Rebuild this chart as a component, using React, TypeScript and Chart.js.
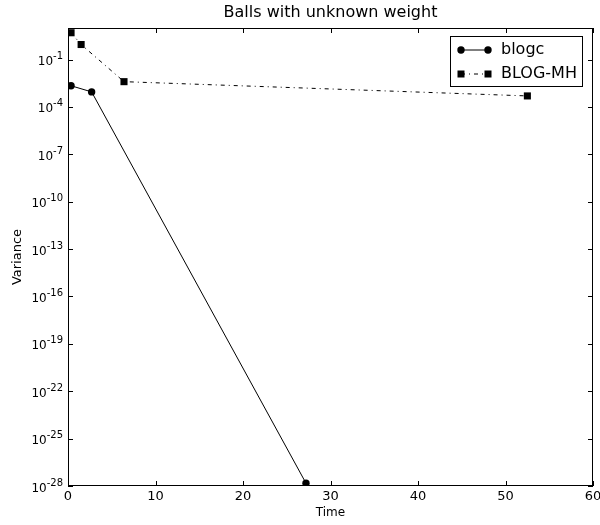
import React, { useEffect, useRef } from "react";
import { Chart, registerables } from "chart.js";

Chart.register(...registerables);

const TITLE = "Balls with unknown weight";
const X_LABEL = "Time";
const Y_LABEL = "Variance";
const SERIES_NAMES = ["blogc", "BLOG-MH"];

const blogcTime = [0.35, 2.7, 27.2];
const blogcVar = [2.2e-3, 9e-4, 1.5e-28];
const mhTime = [0.35, 1.5, 6.4, 52.5];
const mhVar = [5, 0.9, 4e-3, 5e-4];

const xTicks = [0, 10, 20, 30, 40, 50, 60];
const yTickExps = [-28, -25, -22, -19, -16, -13, -10, -7, -4, -1];

const FONT = "'DejaVu Sans', sans-serif";
const MH_DASH = [4, 4, 1, 4];

const decor = {
  id: "decor",
  afterDraw(chart: any) {
    const ctx = chart.ctx;
    const { left, right, top, bottom } = chart.chartArea;
    const xs = chart.scales.x;
    const ys = chart.scales.y;
    ctx.save();
    ctx.strokeStyle = "#000";
    ctx.lineWidth = 1;
    ctx.strokeRect(left + 0.5, top + 0.5, right - left - 1, bottom - top - 1);
    const tl = 5;
    ctx.beginPath();
    xTicks.forEach((v) => {
      const px = Math.round(xs.getPixelForValue(v)) + 0.5;
      ctx.moveTo(px, bottom);
      ctx.lineTo(px, bottom - tl);
      ctx.moveTo(px, top);
      ctx.lineTo(px, top + tl);
    });
    yTickExps.forEach((e) => {
      const py = Math.round(ys.getPixelForValue(Math.pow(10, e))) + 0.5;
      ctx.moveTo(left, py);
      ctx.lineTo(left + tl, py);
      ctx.moveTo(right, py);
      ctx.lineTo(right - tl, py);
    });
    ctx.stroke();

    // y tick labels with superscripts
    ctx.fillStyle = "#000";
    yTickExps.forEach((e) => {
      const py = ys.getPixelForValue(Math.pow(10, e));
      const sup = "-" + String(Math.abs(e));
      ctx.font = `10px ${FONT}`;
      const supW = ctx.measureText(sup).width;
      const rx = left - 5;
      ctx.textAlign = "left";
      ctx.textBaseline = "alphabetic";
      ctx.fillText(sup, rx - supW, py - 0.5);
      ctx.font = `12px ${FONT}`;
      ctx.textAlign = "right";
      ctx.fillText("10", rx - supW, py + 5.5);
    });

    // title
    ctx.font = `16px ${FONT}`;
    ctx.textAlign = "center";
    ctx.textBaseline = "middle";
    ctx.fillText(TITLE, (left + right) / 2, 13);

    // legend
    const bx = right - 143;
    const by = top + 8;
    const bw = 132;
    const bh = 50;
    ctx.fillStyle = "#fff";
    ctx.fillRect(bx, by, bw, bh);
    ctx.strokeStyle = "#000";
    ctx.strokeRect(bx + 0.5, by + 0.5, bw, bh);
    const rows = [by + 14, by + 38];
    const lx1 = bx + 11;
    const lx2 = bx + 38;
    ctx.beginPath();
    ctx.moveTo(lx1, rows[0]);
    ctx.lineTo(lx2, rows[0]);
    ctx.stroke();
    ctx.fillStyle = "#000";
    [lx1, lx2].forEach((x) => {
      ctx.beginPath();
      ctx.arc(x, rows[0], 3.7, 0, Math.PI * 2);
      ctx.fill();
    });
    ctx.setLineDash(MH_DASH);
    ctx.beginPath();
    ctx.moveTo(lx1, rows[1]);
    ctx.lineTo(lx2, rows[1]);
    ctx.stroke();
    ctx.setLineDash([]);
    [lx1, lx2].forEach((x) => {
      ctx.fillRect(x - 3.5, rows[1] - 3.5, 7, 7);
    });
    ctx.font = `16px ${FONT}`;
    ctx.textAlign = "left";
    ctx.textBaseline = "middle";
    ctx.fillText(SERIES_NAMES[0], bx + 51, rows[0]);
    ctx.fillText(SERIES_NAMES[1], bx + 51, rows[1]);
    ctx.restore();
  },
};

export default function App() {
  const ref = useRef<HTMLCanvasElement | null>(null);
  useEffect(() => {
    if (!ref.current) return;
    const chart = new Chart(ref.current, {
      type: "line",
      data: {
        datasets: [
          {
            label: SERIES_NAMES[0],
            data: blogcTime.map((t, i) => ({ x: t, y: blogcVar[i] })),
            borderColor: "#000",
            backgroundColor: "#000",
            borderWidth: 1,
            pointRadius: 3.7,
            pointStyle: "circle",
            pointBorderWidth: 0,
          },
          {
            label: SERIES_NAMES[1],
            data: mhTime.map((t, i) => ({ x: t, y: mhVar[i] })),
            borderColor: "#000",
            backgroundColor: "#000",
            borderWidth: 1,
            borderDash: MH_DASH,
            pointRadius: 5,
            pointStyle: "rect",
            pointBorderWidth: 0,
          },
        ],
      },
      options: {
        animation: false,
        responsive: true,
        maintainAspectRatio: false,
        layout: { padding: { top: 28, right: 7, left: 0, bottom: 0 } },
        plugins: {
          legend: { display: false },
          title: { display: false },
          tooltip: { enabled: false },
        },
        scales: {
          x: {
            type: "linear",
            min: 0,
            max: 60,
            afterBuildTicks: (s: any) => {
              s.ticks = xTicks.map((v) => ({ value: v }));
            },
            afterFit: (s: any) => {
              s.height = 39;
              s.paddingLeft = 0;
              s.paddingRight = 0;
            },
            grid: { display: false, drawTicks: false },
            border: { display: false },
            ticks: {
              color: "#000",
              font: { family: FONT, size: 13 },
              padding: 3,
              maxRotation: 0,
            },
            title: {
              display: true,
              text: X_LABEL,
              color: "#000",
              font: { family: FONT, size: 12 },
              padding: { top: 0, bottom: 5 },
            },
          },
          y: {
            type: "logarithmic",
            min: 1e-28,
            max: 10,
            afterBuildTicks: (s: any) => {
              s.ticks = yTickExps.map((e) => ({ value: Math.pow(10, e) }));
            },
            afterFit: (s: any) => {
              s.width = 68;
              s.paddingTop = 0;
              s.paddingBottom = 0;
            },
            grid: { display: false, drawTicks: false },
            border: { display: false },
            ticks: { display: false },
            title: {
              display: true,
              text: Y_LABEL,
              color: "#000",
              font: { family: FONT, size: 13 },
              padding: { top: 10, bottom: 0 },
            },
          },
        },
      },
      plugins: [decor],
    });
    return () => chart.destroy();
  }, []);
  return (
    <div style={{ position: "fixed", left: 0, top: 0, width: 600, height: 525, background: "#fff" }}>
      <canvas ref={ref} />
    </div>
  );
}
